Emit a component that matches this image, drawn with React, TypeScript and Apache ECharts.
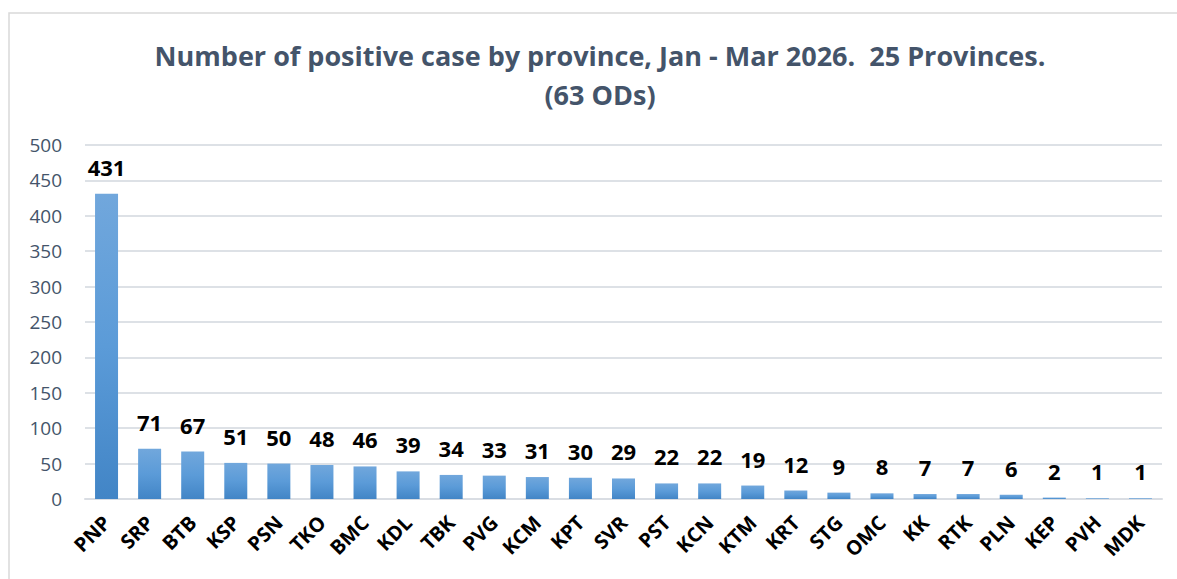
import React, { useEffect, useRef } from "react";
import * as echarts from "echarts";

const categories = ["PNP","SRP","BTB","KSP","PSN","TKO","BMC","KDL","TBK","PVG","KCM","KPT","SVR","PST","KCN","KTM","KRT","STG","OMC","KK","RTK","PLN","KEP","PVH","MDK"];
const values = [431,71,67,51,50,48,46,39,34,33,31,30,29,22,22,19,12,9,8,7,7,6,2,1,1];
const titleLines = ["Number of positive case by province, Jan - Mar 2026.  25 Provinces.", "(63 ODs)"];

export default function App() {
  const ref = useRef<HTMLDivElement>(null);
  useEffect(() => {
    document.body.style.margin = "0";
    const chart = echarts.init(ref.current!, null, { renderer: "svg" });
    chart.setOption({
      animation: false,
      backgroundColor: "#ffffff",
      graphic: [
        {
          type: "rect",
          shape: { x: 9, y: 13, width: 1200, height: 600 },
          style: { fill: "none", stroke: "#d9d9d9", lineWidth: 1.5 },
          silent: true,
        },
        {
          type: "text",
          x: 600,
          y: 36,
          silent: true,
          style: {
            text: titleLines.join("\n"),
            align: "center",
            verticalAlign: "top",
            fontFamily: "Open Sans",
            fontWeight: "bold",
            fontSize: 27,
            lineHeight: 39,
            fill: "#44546a",
          },
        },
      ],
      grid: { left: 85, right: 15, top: 145, bottom: 80 },
      xAxis: {
        type: "category",
        data: categories,
        axisLine: { lineStyle: { color: "#d9dde3", width: 2 } },
        axisTick: { show: false },
        axisLabel: {
          rotate: 45,
          interval: 0,
          margin: 20,
          fontFamily: "Open Sans",
          fontWeight: "bold",
          fontSize: 20,
          color: "#000000",
        },
      },
      yAxis: {
        type: "value",
        min: 0,
        max: 500,
        interval: 50,
        axisLine: { show: false },
        axisTick: { show: false },
        splitLine: { lineStyle: { color: "#dde1e6", width: 2 } },
        axisLabel: {
          margin: 23,
          fontFamily: "Open Sans",
          fontSize: 19,
          color: "#44546a",
        },
      },
      series: [
        {
          type: "bar",
          data: values,
          barWidth: 23,
          itemStyle: {
            color: new echarts.graphic.LinearGradient(0, 0, 0, 1, [
              { offset: 0, color: "#71a7dc" },
              { offset: 0.5, color: "#5b9bd8" },
              { offset: 1, color: "#4285c6" },
            ]),
          },
          label: {
            show: true,
            position: "top",
            distance: 16,
            fontFamily: "Open Sans",
            fontWeight: "bold",
            fontSize: 22,
            color: "#000000",
          },
        },
      ],
    });
    return () => chart.dispose();
  }, []);
  return <div ref={ref} style={{ width: 1177, height: 579 }} />;
}
